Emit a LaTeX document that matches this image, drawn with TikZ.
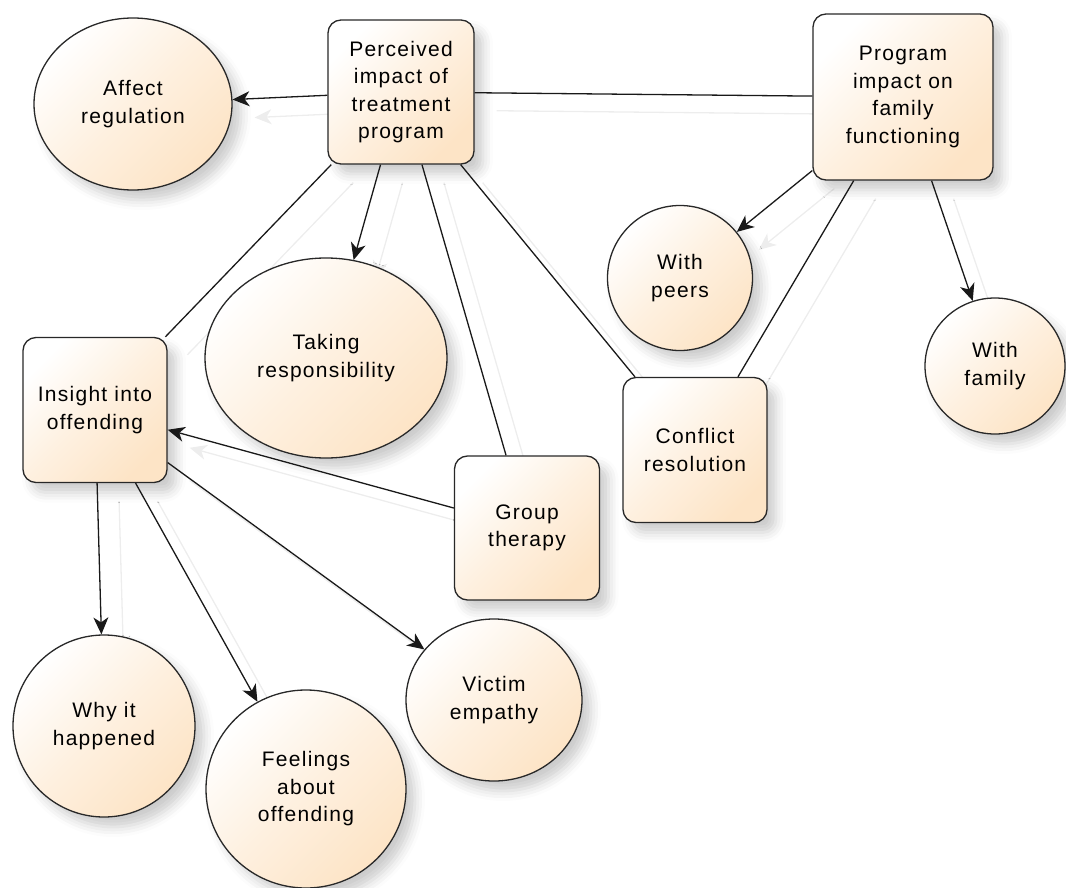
\documentclass[tikz,border=0pt]{standalone}
\usepackage{fontspec}
\setmainfont{Liberation Sans}[LetterSpace=6]
\usetikzlibrary{shapes.geometric,arrows.meta,backgrounds,shadows.blur}
\definecolor{peach}{RGB}{253,228,198}
\definecolor{bordercol}{RGB}{40,40,40}
\begin{document}
\begin{tikzpicture}[x=1pt,y=-1pt,
  base/.style={draw=bordercol, line width=1.3pt, align=center, inner sep=0pt,
    font=\fontsize{21}{27.5}\selectfont, text=black,
    top color=white, bottom color=peach, middle color=peach!55!white, shading angle=45,
    blur shadow={shadow xshift=9pt, shadow yshift=-10pt, shadow blur radius=10pt, shadow opacity=20}},
  box/.style={base, rectangle, rounded corners=13pt},
  oval/.style={base, ellipse},
  edge/.style={draw=black!90, line width=1.3pt},
  edgeshadow/.style={draw=black!7, line width=1.3pt, transform canvas={shift={(22pt,-18pt)}}},
  arr/.style={-{Stealth[length=17pt,width=15pt,inset=5pt]}},
  ln/.style={}
]
\useasboundingbox (0,0) rectangle (1066,888);

\node[oval, minimum width=198pt, minimum height=172pt] (aff) at (133,104) {Affect\\regulation};
\node[box, minimum width=146pt, minimum height=144pt] (per) at (401,92) {Perceived\\impact of\\treatment\\program};
\node[box, minimum width=180pt, minimum height=166pt] (fam) at (903,97) {Program\\impact on\\family\\functioning};
\node[oval, minimum width=145pt, minimum height=145pt] (peer) at (680,278) {With\\peers};
\node[oval, minimum width=140pt, minimum height=136pt] (fmy) at (995,366) {With\\family};
\node[oval, minimum width=242pt, minimum height=200pt] (resp) at (326,358) {Taking\\responsibility};
\node[box, minimum width=144pt, minimum height=145pt] (ins) at (95,410) {Insight into\\offending};
\node[box, minimum width=144pt, minimum height=145pt] (con) at (695,450) {Conflict\\resolution};
\node[box, minimum width=145pt, minimum height=144pt] (grp) at (527,528) {Group\\therapy};
\node[oval, minimum width=182pt, minimum height=182pt] (why) at (104,726) {Why it\\happened};
\node[oval, minimum width=200pt, minimum height=198pt] (feel) at (306,789) {Feelings\\about\\offending};
\node[oval, minimum width=176pt, minimum height=162pt] (vic) at (494,700) {Victim\\empathy};

\foreach \a/\b/\s in {per/aff/arr, per/fam/ln, per/ins/ln, per/resp/arr, per/grp/ln, per/con/ln,
  fam/peer/arr, fam/con/ln, fam/fmy/arr, grp/ins/arr, ins/why/arr, ins/feel/arr, ins/vic/arr} {
  \begin{pgfonlayer}{background}
    \draw[edgeshadow,\s] (\a) -- (\b);
  \end{pgfonlayer}
  \draw[edge,\s] (\a) -- (\b);
}
\end{tikzpicture}
\end{document}
